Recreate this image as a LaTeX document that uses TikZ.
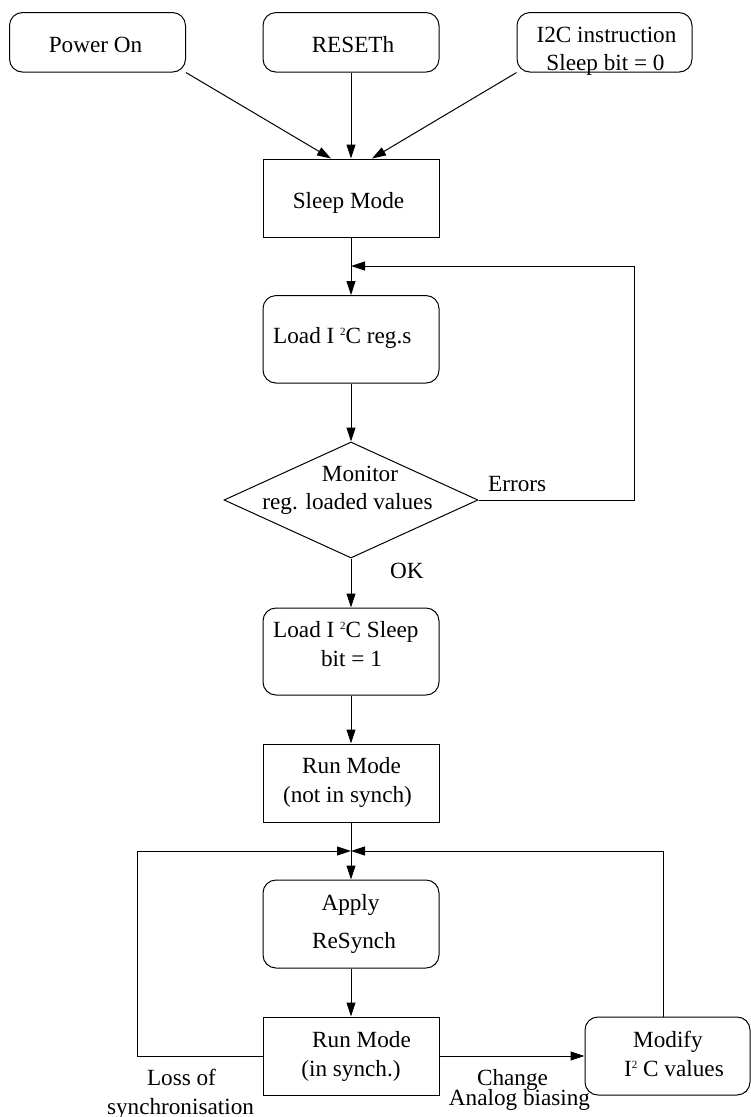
\documentclass[tikz,border=0pt]{standalone}
\usepackage{fontspec}
\setmainfont{Liberation Serif}
\usetikzlibrary{arrows.meta,shapes.geometric}

% small raised "2" used in I2C
\newcommand{\sqtwo}{\raisebox{8pt}{\fontsize{11}{11}\selectfont 2}}

\tikzset{
  lbl/.style={anchor=base,inner sep=0pt,font=\fontsize{23.2}{28}\selectfont},
  roundbox/.style={draw,line width=1pt,rounded corners=13pt,minimum width=176pt,inner sep=0pt},
  squarebox/.style={draw,line width=1pt,minimum width=176pt,minimum height=78pt,inner sep=0pt},
  decision/.style={draw,line width=1pt,diamond,inner sep=0pt,minimum width=254pt,minimum height=116pt},
  flow/.style={line width=1pt,-{Triangle[length=14pt,width=9pt]}},
  wire/.style={line width=1pt}
}

\begin{document}
\begin{tikzpicture}[x=1pt,y=-1pt]
\useasboundingbox (0,0) rectangle (751,1117);

% start conditions
\node[roundbox,minimum height=59.5pt] (pwr) at (97.5,42.3) {};
\node[roundbox,minimum height=59.5pt] (rst) at (351,42.3) {};
\node[roundbox,minimum height=59.5pt,minimum width=175pt] (i2c) at (604.5,42.3) {};

% main sequence
\node[squarebox] (sleep) at (351,198) {};
\node[roundbox,minimum height=87.5pt] (load) at (351,339.3) {};
\node[decision] (mon) at (351,500) {};
\node[roundbox,minimum height=87pt] (lsleep) at (351,651.5) {};
\node[squarebox] (runns) at (351,783) {};
\node[roundbox,minimum height=88pt] (apply) at (351,924) {};
\node[squarebox] (runs) at (351,1056) {};
\node[roundbox,minimum height=78pt,minimum width=165pt] (modify) at (667.5,1056) {};

% texts
\node[lbl] (tpwr) at (95.5,52) {Power On};
\node[lbl] (trst) at (353,52) {RESETh};
\node[lbl] (ti2ca) at (606.5,42.3) {I2C instruction};
\node[lbl] (ti2cb) at (605.5,70) {Sleep bit = 0};
\node[lbl] (tsleep) at (348.5,208) {Sleep Mode};
\node[lbl,anchor=base west] (tload) at (273,343.5) {Load I \sqtwo C reg.s};
\node[lbl] (tmona) at (360,481) {Monitor};
\node[lbl] (tmonb) at (347.5,509) {reg. loaded values};
\node[lbl,anchor=base west] (tlsa) at (273,637) {Load I \sqtwo C Sleep};
\node[lbl] (tlsb) at (351.5,666) {bit = 1};
\node[lbl] (trna) at (351.5,773) {Run Mode};
\node[lbl] (trnb) at (347.5,802) {(not in synch)};
\node[lbl] (tapa) at (350.5,910) {Apply};
\node[lbl] (tapb) at (354,948) {ReSynch};
\node[lbl] (trsa) at (361.5,1047) {Run Mode};
\node[lbl] (trsb) at (351,1076) {(in synch.)};
\node[lbl] (tmoda) at (668,1047) {Modify};
\node[lbl] (tmodb) at (674,1076) {I\sqtwo\ C values};

% edge labels
\node[lbl,anchor=base west] (terr) at (488,491) {Errors};
\node[lbl,anchor=base west] (tok) at (390,578) {OK};
\node[lbl] (tlossa) at (181.5,1085) {Loss of};
\node[lbl] (tlossb) at (180.5,1114) {synchronisation};
\node[lbl] (tchga) at (512.5,1085) {Change};
\node[lbl] (tchgb) at (519.5,1105) {Analog biasing};

% loop corner and junction points
\coordinate (jA) at (351,266);
\coordinate (rA) at (634,266);
\coordinate (jB) at (351,851);
\coordinate (lB) at (137,851);
\coordinate (rB) at (663,851);

% connectors
\draw[flow] (pwr.south east) -- ([xshift=-20pt]sleep.north);
\draw[flow] (rst.south) -- (sleep.north);
\draw[flow] (i2c.south west) -- ([xshift=21pt]sleep.north);
\draw[flow] (sleep.south) -- (load.north);
\draw[flow] (load.south) -- (mon.north);
\draw[flow] (mon.east) -| (rA) -- (jA);
\draw[flow] (mon.south) -- (lsleep.north);
\draw[flow] (lsleep.south) -- (runns.north);
\draw[flow] (runns.south) -- (apply.north);
\draw[flow] (apply.south) -- (runs.north);
\draw[flow] (runs.west) -| (lB) -- (jB);
\draw[flow] (runs.east) -- (modify.west);
\draw[flow] (rB |- modify.north) -- (rB) -- (jB);
\end{tikzpicture}
\end{document}
